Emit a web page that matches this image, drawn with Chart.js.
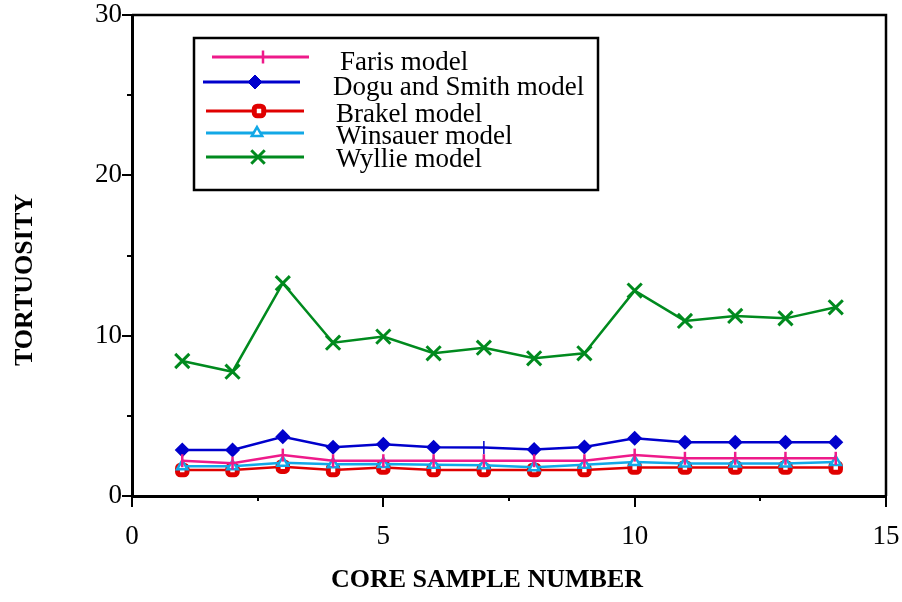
<!DOCTYPE html>
<html>
<head>
<meta charset="utf-8">
<script src="https://cdn.jsdelivr.net/npm/chart.js@4/dist/chart.umd.min.js"></script>
<style>
  html, body { margin: 0; padding: 0; background: #fff; }
</style>
</head>
<body>
<canvas id="chart" width="902" height="602"></canvas>
<script>
// core sample numbers
const samples = [1, 2, 3, 4, 5, 6, 7, 8, 9, 10, 11, 12, 13, 14];

// tortuosity per model
const faris    = [2.2, 2.05, 2.55, 2.2, 2.2, 2.2, 2.2, 2.2, 2.2, 2.55, 2.35, 2.35, 2.35, 2.35];
const doguSmith = [2.87, 2.87, 3.7, 3.04, 3.22, 3.04, 3.02, 2.9, 3.06, 3.6, 3.35, 3.35, 3.35, 3.35];
const brakel   = [1.62, 1.62, 1.83, 1.62, 1.77, 1.62, 1.62, 1.62, 1.62, 1.77, 1.77, 1.77, 1.77, 1.77];
const winsauer = [1.85, 1.85, 2.08, 1.98, 2.0, 1.95, 1.92, 1.8, 1.95, 2.12, 2.02, 2.02, 2.02, 2.12];
const wyllie   = [8.42, 7.75, 13.27, 9.56, 9.94, 8.9, 9.25, 8.59, 8.9, 12.81, 10.92, 11.23, 11.08, 11.77];

// axis ticks
const xTickValues  = [0, 5, 10, 15];
const xMinorTicks  = [2.5, 7.5, 12.5];
const yTickValues  = [0, 10, 20, 30];
const yMinorTicks  = [5, 15, 25];

const xTitle = 'CORE SAMPLE NUMBER';
const yTitle = 'TORTUOSITY';

const serif = '"Liberation Serif", "Times New Roman", serif';

const pts = vals => samples.map((s, i) => ({ x: s, y: vals[i] }));

// legend row placement inside the box (px offsets from box top-left)
const legendRows = [
    { y: 19, x0: 18, x1: 115, mx: 69, tx: 146, ty: 25 },
    { y: 44, x0: 9,  x1: 106, mx: 61, tx: 139, ty: 50 },
    { y: 73, x0: 12, x1: 110, mx: 65, tx: 142, ty: 77 },
    { y: 95, x0: 12, x1: 110, mx: 63, tx: 142, ty: 99 },
    { y: 119, x0: 12, x1: 110, mx: 64, tx: 142, ty: 122 },
];

const framePlugin = {
    id: 'frame',
    beforeDatasetsDraw(chart) {
        const { ctx, chartArea: a, scales: { x, y } } = chart;
        ctx.save();
        ctx.strokeStyle = '#000';
        // top and right frame
        ctx.lineWidth = 2.5;
        ctx.beginPath();
        ctx.moveTo(a.left, a.top);
        ctx.lineTo(a.right, a.top);
        ctx.lineTo(a.right, a.bottom);
        ctx.stroke();
        // tick marks
        ctx.lineWidth = 2;
        ctx.beginPath();
        xTickValues.concat(xMinorTicks).forEach(v => {
            const px = Math.round(x.getPixelForValue(v));
            const len = xTickValues.includes(v) ? 11 : 5;
            ctx.moveTo(px, a.bottom);
            ctx.lineTo(px, a.bottom + len);
        });
        yTickValues.concat(yMinorTicks).forEach(v => {
            const py = Math.round(y.getPixelForValue(v));
            const len = yTickValues.includes(v) ? 10 : 5;
            ctx.moveTo(a.left, py);
            ctx.lineTo(a.left - len, py);
        });
        ctx.stroke();

        // axis titles
        ctx.fillStyle = '#000';
        ctx.font = 'bold 26px ' + serif;
        ctx.textAlign = 'center';
        ctx.textBaseline = 'middle';
        ctx.fillText(xTitle, a.left + 355, a.bottom + 84);
        ctx.translate(25, a.top + 265);
        ctx.rotate(-Math.PI / 2);
        ctx.fillText(yTitle, 0, 0);
        ctx.restore();
    },
};

const boxLegendPlugin = {
    id: 'boxLegend',
    afterDatasetsDraw(chart) {
        const { ctx, chartArea: a } = chart;
        const bx = a.left + 62, by = a.top + 23, bw = 404, bh = 152;
        ctx.save();
        ctx.fillStyle = '#fff';
        ctx.fillRect(bx, by, bw, bh);
        ctx.strokeStyle = '#000';
        ctx.lineWidth = 2.5;
        ctx.strokeRect(bx, by, bw, bh);
        chart.data.datasets.forEach((ds, i) => {
            const r = legendRows[i];
            ctx.strokeStyle = ds.borderColor;
            ctx.lineWidth = 3;
            ctx.beginPath();
            ctx.moveTo(bx + r.x0, by + r.y);
            ctx.lineTo(bx + r.x1, by + r.y);
            ctx.stroke();
            ctx.fillStyle = ds.legendFill;
            ctx.strokeStyle = ds.borderColor;
            ctx.lineWidth = ds.legendBorder;
            Chart.helpers.drawPoint(ctx, {
                pointStyle: ds.legendStyle,
                rotation: ds.legendRotation || 0,
                radius: ds.legendRadius,
                borderWidth: ds.legendBorder,
            }, bx + r.mx, by + r.y);
            ctx.fillStyle = '#000';
            ctx.font = '27px ' + serif;
            ctx.textBaseline = 'middle';
            ctx.textAlign = 'left';
            ctx.fillText(ds.label, bx + r.tx, by + r.ty);
        });
        ctx.restore();
    },
};

const doguStyles = samples.map((s, i) => i === 6 ? 'line' : 'rectRot');
const doguRot = samples.map((s, i) => i === 6 ? 90 : 0);

new Chart(document.getElementById('chart'), {
    type: 'line',
    data: {
        datasets: [
            {
                label: 'Faris model',
                data: pts(faris),
                borderColor: '#ee1a8a',
                backgroundColor: '#ee1a8a',
                borderWidth: 2.5,
                pointStyle: 'line',
                pointRotation: 90,
                pointRadius: 6.5,
                pointBorderWidth: 2.5,
                legendStyle: 'line', legendRotation: 90, legendRadius: 6.5, legendBorder: 2.5, legendFill: '#ee1a8a',
                order: 1,
            },
            {
                label: 'Dogu and Smith model',
                data: pts(doguSmith),
                borderColor: '#0000cc',
                backgroundColor: '#0000cc',
                borderWidth: 2.5,
                pointStyle: doguStyles,
                pointRotation: doguRot,
                pointRadius: 6.5,
                pointBorderWidth: 1.5,
                legendStyle: 'rectRot', legendRadius: 7, legendBorder: 1, legendFill: '#0000cc',
                order: 2,
            },
            {
                label: 'Brakel model',
                data: pts(brakel),
                borderColor: '#e00000',
                backgroundColor: '#ffffff',
                borderWidth: 2.5,
                pointStyle: 'rectRounded',
                pointRadius: 5.5,
                pointBorderWidth: 5,
                legendStyle: 'rectRounded', legendRadius: 5.5, legendBorder: 5, legendFill: '#ffffff',
                order: 4,
            },
            {
                label: 'Winsauer model',
                data: pts(winsauer),
                borderColor: '#12a8e6',
                backgroundColor: '#ffffff',
                borderWidth: 2.5,
                pointStyle: 'triangle',
                pointRadius: 6,
                pointBorderWidth: 2.5,
                legendStyle: 'triangle', legendRadius: 6, legendBorder: 2.5, legendFill: '#ffffff',
                order: 3,
            },
            {
                label: 'Wyllie model',
                data: pts(wyllie),
                borderColor: '#008a1e',
                backgroundColor: '#008a1e',
                borderWidth: 2.5,
                pointStyle: 'crossRot',
                pointRadius: 10,
                pointBorderWidth: 3,
                legendStyle: 'crossRot', legendRadius: 9.5, legendBorder: 3, legendFill: '#008a1e',
                order: 5,
            },
        ],
    },
    options: {
        responsive: false,
        animation: false,
        layout: { padding: { top: 15, right: 16, left: 0, bottom: 0 } },
        plugins: {
            legend:  { display: false },
            tooltip: { enabled: false },
        },
        scales: {
            x: {
                type: 'linear',
                min: 0,
                max: 15,
                afterBuildTicks: s => { s.ticks = xTickValues.map(v => ({ value: v })); },
                afterFit: s => { s.height = 106; s.paddingLeft = 0; s.paddingRight = 0; },
                grid:   { display: true, drawOnChartArea: false, drawTicks: false },
                border: { display: true, color: '#000', width: 3 },
                ticks:  { color: '#000', padding: 25, maxRotation: 0, font: { family: serif, size: 27 } },
            },
            y: {
                min: 0,
                max: 30,
                afterBuildTicks: s => { s.ticks = yTickValues.map(v => ({ value: v })); },
                afterFit: s => { s.width = 132; s.paddingTop = 0; s.paddingBottom = 0; },
                grid:   { display: true, drawOnChartArea: false, drawTicks: false },
                border: { display: true, color: '#000', width: 3 },
                ticks:  { color: '#000', padding: 10, font: { family: serif, size: 27 } },
            },
        },
    },
    plugins: [framePlugin, boxLegendPlugin],
});
</script>
</body>
</html>
